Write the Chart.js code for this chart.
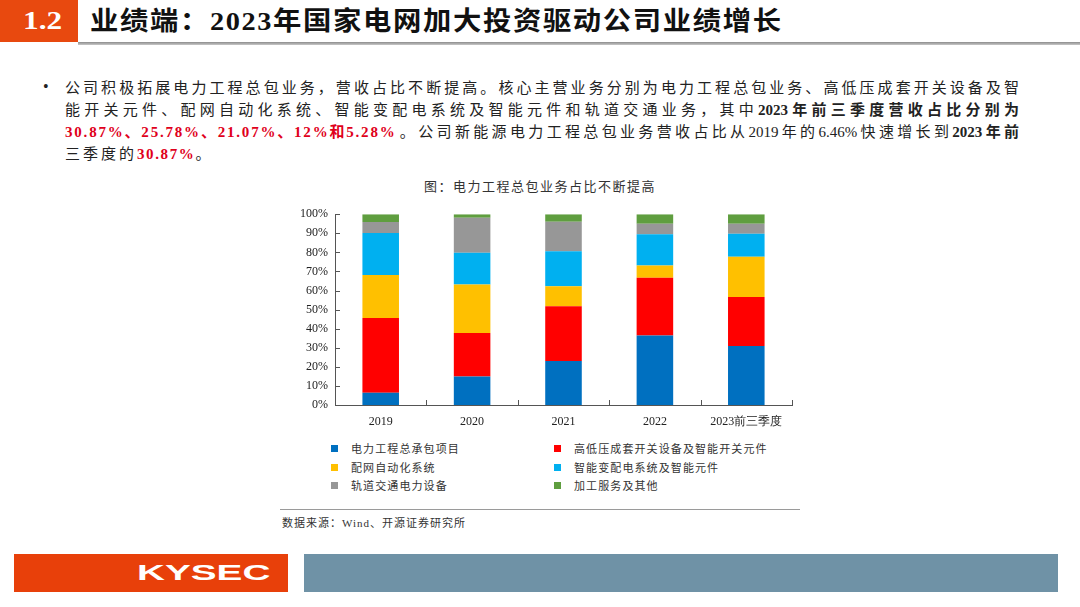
<!DOCTYPE html>
<html lang="zh">
<head>
  <meta charset="UTF-8">
  <title>业绩端：2023年国家电网加大投资驱动公司业绩增长</title>
  <script src="https://cdn.jsdelivr.net/npm/chart.js"></script>
  <style>
    body {
      margin: 0;
      width: 1080px;
      height: 607px;
      position: relative;
      overflow: hidden;
      background: #fff;
      font-family: "Liberation Serif", "Noto Sans CJK SC", serif;
      color: #222;
    }

    /* header */
    .num-box {
      position: absolute;
      left: 0; top: 0;
      width: 78px; height: 42px;
      background: #e8490f;
    }
    .num-box span {
      position: absolute;
      left: 23px; top: 0;
      color: #fff;
      font: bold 25px "Liberation Serif", serif;
      line-height: 42px;
      transform: scaleX(1.25);
      transform-origin: left center;
    }
    .title {
      position: absolute;
      left: 90px; top: 0;
      height: 42px;
      line-height: 44px;
      font-size: 26px;
      font-weight: bold;
      letter-spacing: 1.5px;
      color: #111;
      white-space: nowrap;
      transform: scaleX(1.09);
      transform-origin: left center;
    }
    .title-line {
      position: absolute;
      left: 78px; top: 42px;
      width: 1002px; height: 3px;
      background: linear-gradient(#8c8c8c, #c8c8c8);
    }

    /* paragraph */
    .bullet {
      position: absolute;
      left: 43px; top: 76px;
      font-size: 16px;
      line-height: 22px;
    }
    .para {
      position: absolute;
      left: 65px; top: 77px;
      width: 954px;
      font-size: 15px;
      line-height: 22px;
      color: #222;
    }
    .para .ln {
      text-align: justify;
      text-align-last: justify;
      white-space: nowrap;
    }
    .para .ln.last {
      text-align: left;
      text-align-last: left;
    }
    .para .sp { letter-spacing: 3px; }
    .para b { font-weight: bold; }
    .red { color: #e0001b; font-weight: bold; }
    .nums { display: inline-block; letter-spacing: 1.8px; }
    .last .red { letter-spacing: 1.6px; }

    .fig-title {
      position: absolute;
      left: 280px; top: 176px;
      width: 520px;
      text-align: center;
      font-size: 13px;
      letter-spacing: 1.5px;
      color: #333;
    }

    #chartBox {
      position: absolute;
      left: 280px; top: 200px;
      width: 520px; height: 232px;
    }

    /* legend built from the chart datasets */
    #legend {
      position: absolute;
      left: 331px; top: 440px;
      width: 460px;
      display: grid;
      grid-template-columns: 223px 237px;
      font-size: 11px;
      letter-spacing: 1.1px;
      color: #333;
    }
    #legend .item {
      height: 18.5px;
      line-height: 18.5px;
      white-space: nowrap;
    }
    #legend .sw {
      display: inline-block;
      width: 7px; height: 7px;
      margin-right: 13px;
      vertical-align: 1px;
    }

    .src-line {
      position: absolute;
      left: 280px; top: 509px;
      width: 520px; height: 1px;
      background: #9a9a9a;
    }
    .src {
      position: absolute;
      left: 282px; top: 514px;
      font-size: 11px;
      letter-spacing: 1px;
      color: #333;
    }

    /* footer */
    .foot-left {
      position: absolute;
      left: 14px; top: 554px;
      width: 274px; height: 38px;
      background: #e8400a;
    }
    .foot-left span {
      position: absolute;
      left: 123px; top: 0;
      color: #fff;
      font: bold 22px "Liberation Sans", Arial, sans-serif;
      line-height: 38px;
      transform: scaleX(1.76);
      transform-origin: left center;
    }
    .foot-right {
      position: absolute;
      left: 304px; top: 554px;
      width: 754px; height: 38px;
      background: #6f92a6;
    }
  </style>
</head>
<body>
  <div class="num-box"><span>1.2</span></div>
  <div class="title">业绩端：2023年国家电网加大投资驱动公司业绩增长</div>
  <div class="title-line"></div>

  <div class="bullet">•</div>
  <div class="para">
    <div class="ln">公司积极拓展电力工程总包业务，营收占比不断提高。核心主营业务分别为电力工程总包业务、高低压成套开关设备及智</div>
    <div class="ln">能开关元件、配网自动化系统、智能变配电系统及智能元件和轨道交通业务，其中<b>2023年前三季度营收占比分别为</b></div>
    <div class="ln"><span class="red nums">30.87%、25.78%、21.07%、12%和5.28%</span>。公司新能源电力工程总包业务营收占比从2019年的6.46%快速增长到<b>2023年前</b></div>
    <div class="ln last"><span class="sp">三季度的</span><span class="red">30.87%</span>。</div>
  </div>

  <div class="fig-title">图：电力工程总包业务占比不断提高</div>

  <div id="chartBox"><canvas id="shareChart" width="520" height="232"></canvas></div>
  <div id="legend"></div>

  <div class="src-line"></div>
  <div class="src">数据来源：Wind、开源证券研究所</div>

  <div class="foot-left"><span>KYSEC</span></div>
  <div class="foot-right"></div>

  <script>
    // data (% of revenue)
    const years = ['2019', '2020', '2021', '2022', '2023前三季度'];
    const epcShare = [6.46, 14.9, 23.0, 36.4, 30.87];       // 电力工程总承包项目
    const switchgearShare = [39.2, 22.8, 28.8, 30.3, 25.78]; // 高低压成套开关设备及智能开关元件
    const distAutoShare = [22.5, 25.4, 10.5, 6.4, 21.07];    // 配网自动化系统
    const smartSubShare = [22.0, 16.7, 18.3, 16.4, 12.0];    // 智能变配电系统及智能元件
    const railShare = [5.7, 18.3, 15.5, 5.5, 5.28];          // 轨道交通电力设备
    const otherShare = [4.14, 1.9, 3.9, 5.0, 5.0];           // 加工服务及其他
    const yTicks = [0, 10, 20, 30, 40, 50, 60, 70, 80, 90, 100];

    const seriesNames = ['电力工程总承包项目', '高低压成套开关设备及智能开关元件', '配网自动化系统',
      '智能变配电系统及智能元件', '轨道交通电力设备', '加工服务及其他'];
    const seriesData = [epcShare, switchgearShare, distAutoShare, smartSubShare, railShare, otherShare];
    const seriesColors = ['#0070c0', '#ff0000', '#ffc000', '#00b0f0', '#979797', '#5f9e3f'];

    const axisColor = '#555';
    const tickFont = { family: 'Liberation Serif', size: 12 };

    // Excel-style tick marks pointing inward
    const innerTicks = {
      id: 'innerTicks',
      afterDraw(chart) {
        const { ctx, chartArea, scales } = chart;
        ctx.save();
        ctx.strokeStyle = axisColor;
        ctx.lineWidth = 1;
        ctx.beginPath();
        yTicks.forEach(v => {
          const y = Math.round(scales.y.getPixelForValue(v)) + 0.5;
          ctx.moveTo(chartArea.left, y);
          ctx.lineTo(chartArea.left + 5, y);
        });
        for (let i = 0; i <= years.length; i++) {
          let x;
          if (i === 0) x = chartArea.left;
          else if (i === years.length) x = chartArea.right;
          else x = (scales.x.getPixelForValue(i - 1) + scales.x.getPixelForValue(i)) / 2;
          x = Math.round(x) + 0.5;
          ctx.moveTo(x, chartArea.bottom);
          ctx.lineTo(x, chartArea.bottom - 5);
        }
        ctx.stroke();
        ctx.restore();
      }
    };

    const chart = new Chart(document.getElementById('shareChart'), {
      type: 'bar',
      data: {
        labels: years,
        datasets: seriesNames.map((name, i) => ({
          label: name,
          data: seriesData[i],
          backgroundColor: seriesColors[i],
          borderWidth: 0,
          categoryPercentage: 0.8,
          barPercentage: 0.5
        }))
      },
      options: {
        responsive: false,
        animation: false,
        devicePixelRatio: 1,
        layout: { padding: { top: 11, right: 8, left: 0, bottom: 0 } },
        plugins: {
          legend: { display: false },
          tooltip: { enabled: false }
        },
        scales: {
          x: {
            stacked: true,
            grid: { display: false, drawTicks: false },
            border: { display: true, color: axisColor, width: 1 },
            ticks: { color: '#222', font: tickFont, padding: 10, maxRotation: 0 },
            afterFit(scale) { scale.height = 27; }
          },
          y: {
            stacked: true,
            min: 0,
            max: 100,
            grid: { display: false, drawTicks: false },
            border: { display: true, color: axisColor, width: 1 },
            ticks: {
              stepSize: 10,
              color: '#222',
              font: tickFont,
              padding: 7,
              callback: v => v + '%'
            },
            afterFit(scale) { scale.width = 55; }
          }
        }
      },
      plugins: [innerTicks]
    });

    // two-column legend from the chart's own datasets
    const legendEl = document.getElementById('legend');
    chart.data.datasets.forEach(ds => {
      const item = document.createElement('div');
      item.className = 'item';
      item.innerHTML = `<span class="sw" style="background:${ds.backgroundColor}"></span>${ds.label}`;
      legendEl.appendChild(item);
    });
  </script>
</body>
</html>
